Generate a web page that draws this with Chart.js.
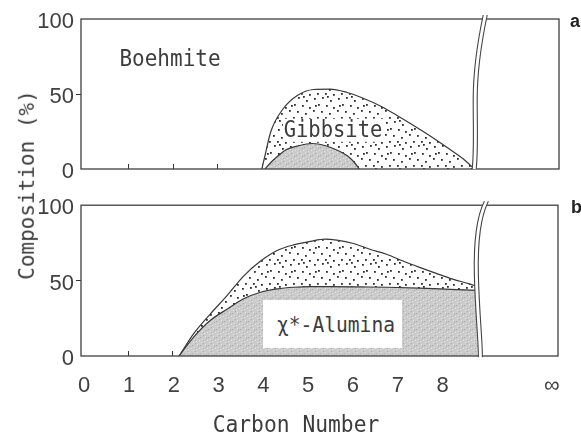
<!DOCTYPE html>
<html>
<head>
<meta charset="utf-8">
<script src="https://cdn.jsdelivr.net/npm/chart.js@4.4.0/dist/chart.umd.min.js"></script>
<style>
  body { margin: 0; background: #fff; }
  #wrap { position: relative; width: 581px; height: 435px; overflow: hidden; background: #fff; }
  .panel { position: absolute; left: 0; }
  .lbl { position: absolute; font-family: "DejaVu Sans Mono", "Liberation Mono", monospace; color: #3c3c3c;
         line-height: 1; white-space: nowrap; transform: translate(-50%, -50%) scaleY(1.1); }
  .tag { position: absolute; font-family: "Liberation Sans", Arial, sans-serif; font-weight: bold;
         font-size: 18px; color: #222; line-height: 1; }
</style>
</head>
<body>
<div id="wrap">
  <canvas id="chartA" class="panel" width="581" height="190" style="top:0"></canvas>
  <canvas id="chartB" class="panel" width="581" height="245" style="top:190px"></canvas>
  <div class="lbl" style="left:170px; top:59px; font-size:21px">Boehmite</div>
  <div class="lbl" style="left:333px; top:130px; font-size:20.5px; background:#fff; padding:0 1px">Gibbsite</div>
  <div style="position:absolute; left:263px; top:300px; width:139px; height:48px; background:#fff"></div>
  <div class="lbl" style="left:336px; top:325px; font-size:19.6px">χ*-Alumina</div>
  <div class="lbl" style="left:296px; top:424px; font-size:21.3px">Carbon Number</div>
  <div class="lbl" style="left:27px; top:185px; font-size:21px; transform: translate(-50%,-50%) rotate(-90deg) scaleY(1.05)">Composition (%)</div>
  <div class="tag" style="left:570px; top:12px">a</div>
  <div class="tag" style="left:571px; top:198px">b</div>
</div>
<script>
// tick positions on the carbon number axis (10.44 is the "infinity" slot after the break)
const xTicks = [0, 1, 2, 3, 4, 5, 6, 7, 8, 10.44];
const yTicks = [0, 50, 100];

// panel a: upper edge of the dotted (gibbsite) region and of the grey region, %
const carbonA_gibbsite = [3.98, 4.05, 4.18, 4.45, 4.77, 5.13, 5.5, 5.88, 6.25, 6.62, 7.0, 7.36, 7.73, 8.1, 8.47, 8.72];
const gibbsiteA = [0, 9, 25, 40, 49, 53, 53.3, 51, 47, 42, 35.5, 29, 22, 14.5, 6.7, 0];
const carbonA_grey = [4.05, 4.2, 4.35, 4.5, 4.8, 5.1, 5.4, 5.7, 5.9, 6.05, 6.15];
const greyA = [0, 5, 9, 12.5, 15.5, 17, 15.5, 12, 8.5, 4, 0];

// panel b: upper edge of the dotted region and of the chi*-alumina region, %
const carbonB_top = [2.14, 2.47, 2.84, 3.21, 3.58, 3.96, 4.33, 4.7, 5.07, 5.4, 5.66, 6.03, 6.4, 6.77, 7.14, 7.51, 7.88, 8.25, 8.62, 8.81];
const totalB = [0, 15, 28, 40, 53, 63, 70, 73.7, 76, 77.5, 76.8, 74.6, 70.8, 67.5, 63, 58.8, 54.8, 51, 47.8, 46];
const carbonB_chi = [2.14, 2.47, 2.84, 3.21, 3.58, 3.96, 4.33, 4.7, 5.07, 5.5, 6.2, 6.8, 7.5, 8.2, 8.81];
const chiB = [0, 12.7, 23.7, 31, 38, 42.3, 44.5, 45.6, 46, 46, 45.8, 45.6, 45, 44.2, 43.5];

const lineColor = '#383838';
const tickFont = {family: "'Liberation Sans', Arial, sans-serif", size: 22};

function toPoints(xs, ys) {
    return xs.map((x, i) => ({x: x, y: ys[i]}));
}

function dotPattern(ctx) {
    const c = document.createElement('canvas');
    c.width = 24; c.height = 24;
    const g = c.getContext('2d');
    g.fillStyle = '#fff';
    g.fillRect(0, 0, 24, 24);
    g.fillStyle = '#2e2e2e';
    const spots = [[2,2],[10,1],[18,4],[6,8],[14,9],[21,11],[1,14],[9,15],[17,17],[5,21],[13,21],[21,22],[15,0],[3,9]];
    spots.forEach(p => g.fillRect(p[0], p[1], 1.8, 1.8));
    return ctx.createPattern(c, 'repeat');
}

function greyPattern(ctx) {
    const c = document.createElement('canvas');
    c.width = 8; c.height = 8;
    const g = c.getContext('2d');
    g.fillStyle = '#cbcbcb';
    g.fillRect(0, 0, 8, 8);
    g.fillStyle = '#e4e4e4';
    [[1,0],[5,2],[2,5],[7,6],[4,7]].forEach(p => g.fillRect(p[0], p[1], 1, 1));
    g.fillStyle = '#adadad';
    [[3,1],[0,3],[6,4],[3,6]].forEach(p => g.fillRect(p[0], p[1], 1, 1));
    return ctx.createPattern(c, 'repeat');
}

// box round the panel plus the double wavy axis break
const framePlugin = {
    id: 'panelFrame',
    afterDraw(chart, args, opts) {
        const ctx = chart.ctx;
        const a = chart.chartArea;
        const x0 = chart.scales.x.getPixelForValue(opts.breakAt);
        const w = opts.wave;
        ctx.save();
        ctx.strokeStyle = '#404040';
        ctx.lineWidth = 1.3;
        ctx.strokeRect(a.left, a.top, a.right - a.left, a.bottom - a.top);

        const path = (dx) => {
            ctx.beginPath();
            ctx.moveTo(x0 + w.start[0] + dx, a.top + w.start[1]);
            w.curves.forEach(c => ctx.bezierCurveTo(
                x0 + c[0][0] + dx, a.top + c[0][1],
                x0 + c[1][0] + dx, a.top + c[1][1],
                x0 + c[2][0] + dx, a.top + c[2][1]));
        };
        ctx.strokeStyle = '#fff';
        ctx.lineWidth = 4;
        path(2); ctx.stroke();
        ctx.strokeStyle = '#444';
        ctx.lineWidth = 1.1;
        path(0); ctx.stroke();
        path(4); ctx.stroke();
        ctx.restore();
    }
};

function baseOptions(showXLabels, xHeight, padding, breakAt, wave) {
    return {
        responsive: false,
        animation: false,
        events: [],
        layout: {padding: padding},
        scales: {
            x: {
                type: 'linear',
                min: -0.05,
                max: 10.6,
                z: 1,
                afterBuildTicks: s => { s.ticks = xTicks.map(v => ({value: v})); },
                afterFit: s => { s.height = xHeight; },
                border: {display: false},
                grid: {
                    drawOnChartArea: false,
                    tickLength: -5,
                    color: c => (c.tick && c.tick.value > 0 && c.tick.value <= 8) ? '#333' : 'rgba(0,0,0,0)'
                },
                ticks: {
                    display: showXLabels,
                    autoSkip: false,
                    maxRotation: 0,
                    padding: 22,
                    labelOffset: 1,
                    color: '#404040',
                    font: tickFont,
                    callback: v => v > 9 ? '∞' : String(v)
                }
            },
            y: {
                min: 0,
                max: 100,
                afterBuildTicks: s => { s.ticks = yTicks.map(v => ({value: v})); },
                afterFit: s => { s.width = 81; },
                border: {display: false},
                grid: {
                    drawOnChartArea: false,
                    tickLength: 5,
                    color: c => (c.tick && c.tick.value === 50) ? '#333' : 'rgba(0,0,0,0)'
                },
                ticks: {padding: 2, labelOffset: 3, color: '#404040', font: tickFont}
            }
        },
        plugins: {
            legend: {display: false},
            tooltip: {enabled: false},
            panelFrame: {breakAt: breakAt, wave: wave}
        }
    };
}

function areaSet(points, bg, order) {
    return {
        data: points,
        fill: 'origin',
        backgroundColor: bg,
        borderColor: lineColor,
        borderWidth: 1.2,
        pointRadius: 0,
        cubicInterpolationMode: 'monotone',
        order: order
    };
}

const ctxA = document.getElementById('chartA').getContext('2d');
new Chart(ctxA, {
    type: 'line',
    data: {
        datasets: [
            areaSet(toPoints(carbonA_gibbsite, gibbsiteA), dotPattern(ctxA), 2),
            areaSet(toPoints(carbonA_grey, greyA), greyPattern(ctxA), 1)
        ]
    },
    options: baseOptions(false, 0, {left: 0, right: 22, top: 19, bottom: 21}, 8.8,
        {start: [5, -4], curves: [[[1, 15], [-5, 45], [-5, 80]], [[-5, 115], [-4, 130], [-6, 150]]]}),
    plugins: [framePlugin]
});

const ctxB = document.getElementById('chartB').getContext('2d');
new Chart(ctxB, {
    type: 'line',
    data: {
        datasets: [
            areaSet(toPoints(carbonB_top, totalB), dotPattern(ctxB), 2),
            areaSet(toPoints(carbonB_chi, chiB), greyPattern(ctxB), 1)
        ]
    },
    options: baseOptions(true, 79, {left: 0, right: 22, top: 14, bottom: 0}, 8.8,
        {start: [7, -4], curves: [[[1, 8], [-4, 30], [-3, 70]], [[-2, 110], [1, 132], [1, 152]]]}),
    plugins: [framePlugin]
});
</script>
</body>
</html>
